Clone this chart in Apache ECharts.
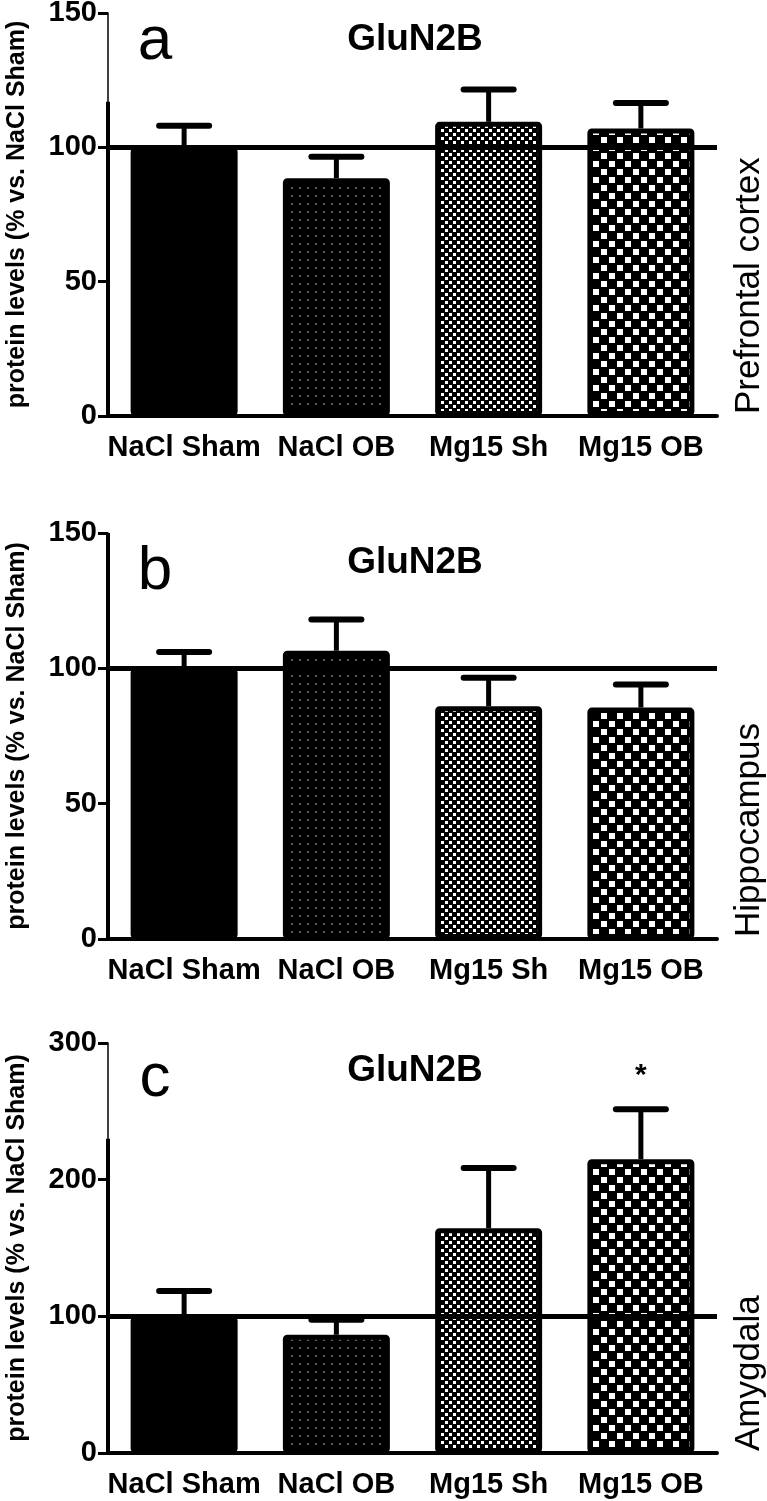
<!DOCTYPE html>
<html><head><meta charset="utf-8">
<script src="https://cdn.jsdelivr.net/npm/echarts@6/dist/echarts.min.js"></script>
<style>html,body{margin:0;padding:0;background:#fff}#c{width:767px;height:1501px}</style>
</head><body><div id="c"></div>
<script>
// ---- data ----
const categories = ['NaCl Sham', 'NaCl OB', 'Mg15 Sh', 'Mg15 OB'];
const meansA = [100, 88.5, 109.5, 107];
const errTopA = [108, 96.5, 121.5, 116.5];
const meansB = [100, 106.5, 86, 85.5];
const errTopB = [106, 118, 96.5, 94];
const meansC = [100, 86.5, 164.5, 215];
const errTopC = [118.5, 97.5, 208.5, 251.5];
const sigA = ['', '', '', ''];
const sigB = ['', '', '', ''];
const sigC = ['', '', '', '*'];
const yMaxAB = 150, yStepAB = 50;
const yMaxC = 300, yStepC = 100;
const axisThickTop = [117, 150, 230];   // upper end of the heavy part of each y axis line
const panelLetters = ['a', 'b', 'c'];
const regions = ['Prefrontal cortex', 'Hippocampus', 'Amygdala'];
const titleText = 'GluN2B';
const yName = 'protein levels (% vs. NaCl Sham)';
const refLine = 100;

// ---- patterns ----
function makePattern(size, bg, fg, rects) {
  const c = document.createElement('canvas');
  c.width = size; c.height = size;
  const g = c.getContext('2d');
  g.fillStyle = bg; g.fillRect(0, 0, size, size);
  g.fillStyle = fg;
  rects.forEach(r => g.fillRect(r[0], r[1], r[2], r[3]));
  return { image: c, repeat: 'repeat' };
}
const fills = [
  '#000',
  makePattern(8, '#000', '#5a5a5a', [[3, 3, 2, 2]]),
  makePattern(8, '#000', '#fff', [[1, 1, 3, 3], [5, 5, 3, 3]]),
  makePattern(16, '#000', '#fff', [[1, 1, 6, 6], [9, 9, 6, 6]])
];

const FONT = '"Liberation Sans", Arial, sans-serif';
const layout = [
  { top: 13, height: 403, means: meansA, err: errTopA, sig: sigA, max: yMaxAB, step: yStepAB, letterY: 42, titleY: 40 },
  { top: 533, height: 406, means: meansB, err: errTopB, sig: sigB, max: yMaxAB, step: yStepAB, letterY: 572, titleY: 563 },
  { top: 1043, height: 410, means: meansC, err: errTopC, sig: sigC, max: yMaxC, step: yStepC, letterY: 1079, titleY: 1071 }
];
const gridLeft = 108, gridWidth = 609;

const grids = [], xAxes = [], yAxes = [], series = [], graphics = [];
layout.forEach((p, i) => {
  grids.push({ left: gridLeft, width: gridWidth, top: p.top, height: p.height, outerBoundsMode: 'none', containLabel: false });
  xAxes.push({
    type: 'category', gridIndex: i, data: categories,
    axisLine: { lineStyle: { color: '#000', width: 4 } },
    axisTick: { alignWithLabel: true, length: 11, lineStyle: { color: '#000', width: 4 } },
    axisLabel: { interval: 0, color: '#000', fontSize: 29, fontWeight: 'bold', fontFamily: FONT, margin: 17 }
  });
  yAxes.push({
    type: 'value', gridIndex: i, min: 0, max: p.max, interval: p.step,
    axisLine: { show: true, lineStyle: { color: '#000', width: 1.5 } },
    axisTick: { show: true, length: 10, lineStyle: { color: '#000', width: 3 } },
    splitLine: { show: false },
    axisLabel: { color: '#000', fontSize: 29, fontWeight: 'bold', fontFamily: FONT, margin: 11 },
    name: yName, nameLocation: 'middle', nameGap: 78,
    nameTextStyle: { color: '#000', fontSize: 25, fontWeight: 'bold', fontFamily: FONT }
  });
  series.push({
    type: 'bar', xAxisIndex: i, yAxisIndex: i, barWidth: 107,
    data: p.means.map((v, j) => ({ value: v, itemStyle: { color: fills[j] } })),
    itemStyle: { borderColor: '#000', borderWidth: 5, borderRadius: 2 },
    markLine: {
      silent: true, symbol: 'none', z: 10,
      label: { show: false },
      lineStyle: { color: '#000', width: 5, type: 'solid' },
      data: [{ yAxis: refLine }]
    }
  });
  const sig = p.sig;
  series.push({
    type: 'custom', xAxisIndex: i, yAxisIndex: i, z: 5,
    data: p.means.map((v, j) => [j, v, p.err[j]]),
    renderItem: function (params, api) {
      const x = api.value(0);
      const base = api.coord([x, api.value(1)]);
      const top = api.coord([x, api.value(2)]);
      const hw = 25;
      const children = [
        { type: 'line', shape: { x1: base[0], y1: base[1], x2: top[0], y2: top[1] }, style: { stroke: '#000', lineWidth: 5 } },
        { type: 'line', shape: { x1: top[0] - hw, y1: top[1], x2: top[0] + hw, y2: top[1] }, style: { stroke: '#000', lineWidth: 6, lineCap: 'round' } }
      ];
      const s = sig[params.dataIndex];
      if (s) {
        children.push({ type: 'text', x: top[0], y: top[1] - 34, style: { text: s, font: 'bold 30px ' + FONT, fill: '#000', align: 'center', verticalAlign: 'middle' } });
      }
      return { type: 'group', children: children };
    }
  });
  // heavy lower part of the y axis line
  series.push({
    type: 'custom', xAxisIndex: i, yAxisIndex: i, z: 6, silent: true,
    data: [[0, 0, axisThickTop[i]]],
    renderItem: function (params, api) {
      const x0 = params.coordSys.x;
      const p0 = api.coord([0, api.value(1)]);
      const p1 = api.coord([0, api.value(2)]);
      return { type: 'line', shape: { x1: x0, y1: p0[1] + 2, x2: x0, y2: p1[1] }, style: { stroke: '#000', lineWidth: 4 } };
    }
  });
  graphics.push({ type: 'text', x: 415, y: p.titleY, style: { text: titleText, font: 'bold 37px ' + FONT, fill: '#000', align: 'center', verticalAlign: 'middle' } });
  graphics.push({ type: 'text', x: 155, y: p.letterY, style: { text: panelLetters[i], font: '62px ' + FONT, fill: '#000', align: 'center', verticalAlign: 'middle' } });
  graphics.push({ type: 'text', x: 749, y: p.top + p.height - 2, rotation: Math.PI / 2, style: { text: regions[i], font: '35px ' + FONT, fill: '#000', align: 'left', verticalAlign: 'middle' } });
});

const chart = echarts.init(document.getElementById('c'));
chart.setOption({
  animation: false,
  backgroundColor: '#fff',
  grid: grids, xAxis: xAxes, yAxis: yAxes, series: series,
  graphic: graphics
});
</script>
</body></html>
